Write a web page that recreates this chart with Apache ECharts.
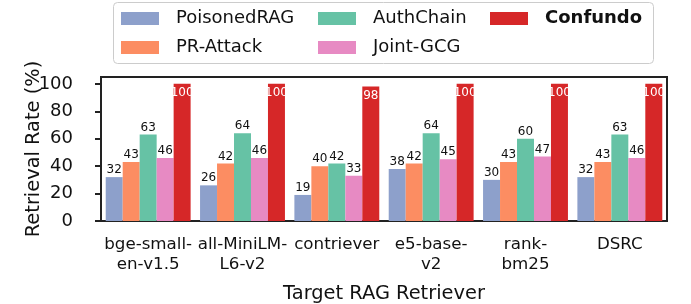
<!DOCTYPE html>
<html><head><meta charset="utf-8">
<script src="https://cdn.jsdelivr.net/npm/echarts@6/dist/echarts.min.js"></script>
<style>html,body{margin:0;padding:0;background:#fff}#c{width:691px;height:304px}</style>
</head><body><div id="c"></div>
<script>
const categories = ['bge-small-\nen-v1.5', 'all-MiniLM-\nL6-v2', 'contriever', 'e5-base-\nv2', 'rank-\nbm25', 'DSRC'];
const poisonedRAG = [32, 26, 19, 38, 30, 32];
const prAttack = [43, 42, 40, 42, 43, 43];
const authChain = [63, 64, 42, 64, 60, 63];
const jointGCG = [46, 46, 33, 45, 47, 46];
const confundo = [100, 100, 98, 100, 100, 100];
const yTicks = [0, 20, 40, 60, 80, 100];

const FONT = 'DejaVu Sans';
const colors = {
  'PoisonedRAG': '#8da0cb', 'PR-Attack': '#fc8d62', 'AuthChain': '#66c2a5',
  'Joint-GCG': '#e78ac3', 'Confundo': '#d62728'
};
function mk(name, data, inside) {
  return {
    name, type: 'bar', data, barGap: '0%', barCategoryGap: '10%',
    itemStyle: { color: colors[name] },
    label: inside ? {
      show: true, position: 'insideTop', distance: 3, color: '#fff',
      fontFamily: FONT, fontSize: 12
    } : {
      show: true, position: 'top', distance: 1, color: '#111',
      fontFamily: FONT, fontSize: 12
    }
  };
}
const legendBase = {
  orient: 'vertical', padding: 0, itemWidth: 38, itemHeight: 13, itemGap: 9,
  icon: 'rect', selectedMode: false,
  textStyle: { fontFamily: FONT, fontSize: 18, color: '#111', lineHeight: 20, padding: [0, 0, 0, 12] }
};
const chart = echarts.init(document.getElementById('c'), null, { renderer: 'canvas' });
chart.setOption({
  animation: false,
  graphic: [{
    type: 'rect', shape: { x: 113.5, y: 2.5, width: 540, height: 61, r: 4 },
    style: { fill: '#fff', stroke: '#cccccc', lineWidth: 1 }, z: -1
  }],
  legend: [
    Object.assign({}, legendBase, { left: 121, top: 8.5, data: ['PoisonedRAG', 'PR-Attack'] }),
    Object.assign({}, legendBase, { left: 318, top: 8.5, data: ['AuthChain', 'Joint-GCG'] }),
    Object.assign({}, legendBase, { left: 490, top: 8.5, data: ['Confundo'],
      textStyle: Object.assign({}, legendBase.textStyle, { fontWeight: 'bold' }) })
  ],
  grid: { left: 101, top: 77, width: 566, height: 146, show: true, borderColor: '#222', borderWidth: 2, backgroundColor: 'transparent' },
  xAxis: {
    type: 'category', data: categories,
    name: 'Target RAG Retriever', nameLocation: 'middle', nameGap: 63,
    nameTextStyle: { fontFamily: FONT, fontSize: 19.4, color: '#111' },
    axisLine: { lineStyle: { color: '#222', width: 2 } },
    axisTick: { alignWithLabel: true, length: 6, lineStyle: { color: '#222', width: 2 } },
    axisLabel: { fontFamily: FONT, fontSize: 16.7, color: '#111', lineHeight: 20, margin: 14, interval: 0 }
  },
  yAxis: {
    type: 'value', min: 0, max: 105, interval: 20,
    name: 'Retrieval Rate (%)', nameLocation: 'middle', nameGap: 58, nameMoveOverlap: false,
    nameTextStyle: { fontFamily: FONT, fontSize: 19.4, color: '#111' },
    splitLine: { show: false },
    axisLine: { show: true, lineStyle: { color: '#222', width: 2 } },
    axisTick: { show: true, length: 6, customValues: yTicks, lineStyle: { color: '#222', width: 2 } },
    axisLabel: {
      fontFamily: FONT, fontSize: 18, color: '#111', margin: 28, showMaxLabel: false,
      formatter: v => (yTicks.indexOf(v) >= 0 ? String(v) : '')
    }
  },
  series: [
    mk('PoisonedRAG', poisonedRAG), mk('PR-Attack', prAttack), mk('AuthChain', authChain),
    mk('Joint-GCG', jointGCG), mk('Confundo', confundo, true)
  ]
});
</script></body></html>
